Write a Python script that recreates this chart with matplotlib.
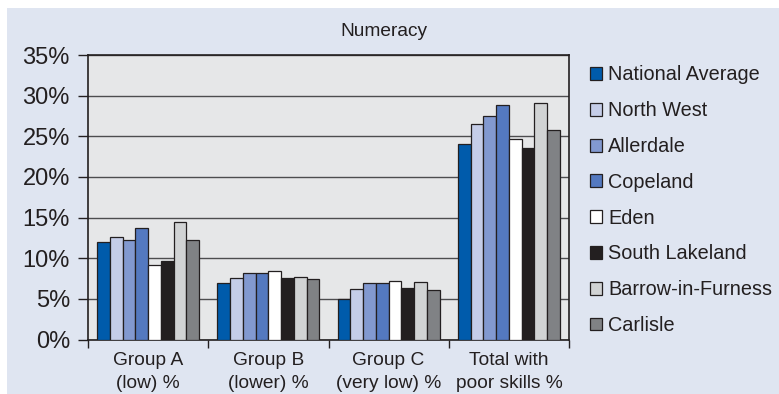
import matplotlib.pyplot as plt
import matplotlib.patches as mpatches
import numpy as np

plt.rcParams['font.family'] = ['Liberation Sans', 'DejaVu Sans']

categories = ['Group A\n(low) %', 'Group B\n(lower) %', 'Group C\n(very low) %', 'Total with\npoor skills %']
areas = ['National Average', 'North West', 'Allerdale', 'Copeland', 'Eden',
         'South Lakeland', 'Barrow-in-Furness', 'Carlisle']

# valores por area: Group A, Group B, Group C, Total
national_average = [12.0, 7.0, 5.0, 24.0]
north_west = [12.6, 7.6, 6.2, 26.5]
allerdale = [12.3, 8.2, 7.0, 27.5]
copeland = [13.7, 8.2, 7.0, 28.8]
eden = [9.2, 8.4, 7.2, 24.7]
south_lakeland = [9.6, 7.6, 6.3, 23.6]
barrow = [14.4, 7.7, 7.1, 29.1]
carlisle = [12.2, 7.5, 6.1, 25.8]

series = [national_average, north_west, allerdale, copeland, eden,
          south_lakeland, barrow, carlisle]
colores = ['#005bab', '#c5cde8', '#8299d0', '#5479c0', '#ffffff',
           '#231f20', '#d1d3d4', '#808285']

texto = '#231f20'

fig = plt.figure(figsize=(7.79, 3.94), dpi=100, facecolor='white')
# panel celeste de fondo
fig.patches.append(mpatches.Rectangle((7 / 779, 0), 1, 1 - 8 / 394,
                                      transform=fig.transFigure,
                                      facecolor='#dfe5f1', edgecolor='none', zorder=-5))

ax = fig.add_axes([88 / 779, 54.5 / 394, 481 / 779, 284.5 / 394])
ax.set_facecolor('#e6e7e8')

x = np.arange(len(categories))
ancho = 0.106
for i, (valores, color, nombre) in enumerate(zip(series, colores, areas)):
    ax.bar(x + (i - 3.5) * ancho, valores, width=ancho, color=color,
           edgecolor='#231f20', linewidth=0.9, label=nombre, zorder=3)

ax.set_xlim(-0.5, 3.5)
ax.set_ylim(0, 35)
ax.set_yticks(np.arange(0, 36, 5))
ax.set_yticklabels([f'{v}%' for v in range(0, 36, 5)], fontsize=17, color=texto)
ax.yaxis.grid(True, color='#4d4d4f', linewidth=1.0, zorder=1)
ax.set_axisbelow(True)

ax.set_xticks(x)
ax.set_xticklabels(categories, fontsize=13.8, color=texto, linespacing=1.45)
ax.tick_params(axis='x', which='major', length=0, pad=9)
ax.set_xticks(np.arange(-0.5, 3.6, 1), minor=True)
ax.tick_params(axis='x', which='minor', length=6, width=1, color='#231f20')
ax.tick_params(axis='y', length=7, width=1, color='#231f20', pad=6)

for lado in ['left', 'right', 'top', 'bottom']:
    ax.spines[lado].set_color('#231f20')
    ax.spines[lado].set_linewidth(1.2)

fig.text(384 / 779, 1 - 31 / 394, 'Numeracy', fontsize=13.8, color=texto,
         ha='center', va='center')

leg = fig.legend(loc='upper left', bbox_to_anchor=(590 / 779, 1 - 65.5 / 394),
                 bbox_transform=fig.transFigure, frameon=False, fontsize=14.3,
                 handlelength=0.62, handleheight=0.62, handletextpad=0.3,
                 labelspacing=0.845, borderaxespad=0, borderpad=0)
for t in leg.get_texts():
    t.set_color(texto)

fig.savefig('out.png', dpi=100, facecolor='white')
